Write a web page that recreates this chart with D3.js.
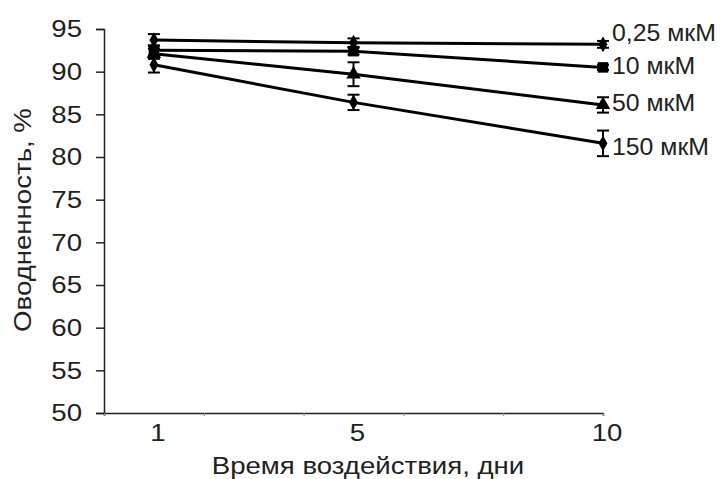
<!DOCTYPE html>
<html>
<head>
<meta charset="utf-8">
<script src="https://cdn.jsdelivr.net/npm/d3@7"></script>
<style>
  body { margin: 0; background: #fff; }
  text { font-family: "Liberation Sans", Arial, sans-serif; fill: #222; }
</style>
</head>
<body>
<script>
// days of exposure
var days = [1, 5, 10];
var seriesNames = ["0,25 мкМ", "10 мкМ", "50 мкМ", "150 мкМ"];
var values025 = [93.7, 93.4, 93.2];
var values10 = [92.5, 92.4, 90.5];
var values50 = [92.1, 89.7, 86.1];
var values150 = [90.8, 86.4, 81.6];
var err025 = [0.7, 0.5, 0.4];
var err10 = [0.6, 0.4, 0.3];
var err50 = [0.6, 1.4, 0.9];
var err150 = [0.9, 0.9, 1.5];
var markers = ["diamond", "square", "triangle", "diamond"];
var yTicks = [50, 55, 60, 65, 70, 75, 80, 85, 90, 95];
var xLabelTicks = [1, 5, 10];
var xMinorTicks = [0, 2, 4, 6, 8, 10];

var allValues = [values025, values10, values50, values150];
var allErr = [err025, err10, err50, err150];

var svgConfig = {
  width: 727,
  height: 479,
  margin: { top: 29, right: 124, bottom: 66, left: 104 }
};
var stretch = 1.15;
var fontSize = 24;

var svg = d3.select("body").append("svg")
  .attr("width", svgConfig.width)
  .attr("height", svgConfig.height);

var xScale = d3.scaleLinear()
  .domain([0, 10])
  .range([svgConfig.margin.left, svgConfig.width - svgConfig.margin.right]);

var yScale = d3.scaleLinear()
  .domain([50, 95])
  .range([svgConfig.height - svgConfig.margin.bottom, svgConfig.margin.top]);

// y axis
var yAxis = d3.axisLeft(yScale).tickValues(yTicks).tickSize(8);
var gy = svg.append("g")
  .attr("transform", "translate(" + svgConfig.margin.left + ",0)")
  .call(yAxis);
gy.select(".domain").attr("stroke", "#222").attr("stroke-width", 1.5);
gy.selectAll(".tick line").attr("stroke", "#222").attr("stroke-width", 1.5);
gy.selectAll(".tick text")
  .attr("font-size", fontSize)
  .attr("font-family", null)
  .attr("x", -22 / stretch)
  .attr("transform", "scale(" + stretch + ",1)");

// x axis: small minor ticks, labels at 1, 5, 10
var xBase = svgConfig.height - svgConfig.margin.bottom;
var gxMinor = svg.append("g")
  .attr("transform", "translate(0," + xBase + ")")
  .call(d3.axisBottom(xScale).tickValues(xMinorTicks).tickSize(3).tickFormat(""));
gxMinor.select(".domain").attr("stroke", "#222").attr("stroke-width", 1.5);
gxMinor.selectAll(".tick line").attr("stroke", "#888");

var gx = svg.append("g")
  .attr("transform", "translate(0," + xBase + ")")
  .call(d3.axisBottom(xScale).tickValues(xLabelTicks).tickSize(0).tickPadding(11));
gx.select(".domain").remove();
gx.selectAll(".tick text")
  .attr("font-size", fontSize)
  .attr("font-family", null)
  .attr("transform", "scale(" + stretch + ",1)")
  .attr("x", 0);
gx.selectAll(".tick").each(function(d) {
  d3.select(this).attr("transform", "translate(" + (xScale(d) + 4) + ",0)");
});

// axis titles
svg.append("text")
  .attr("transform", "translate(368,474) scale(" + stretch + ",1)")
  .attr("text-anchor", "middle")
  .attr("font-size", fontSize)
  .text("Время воздействия, дни");

svg.append("text")
  .attr("transform", "translate(31,220) rotate(-90) scale(" + stretch + ",1)")
  .attr("text-anchor", "middle")
  .attr("font-size", fontSize)
  .text("Оводненность, %");

// lines
var line = d3.line()
  .x(function(d, i) { return xScale(days[i]); })
  .y(function(d) { return yScale(d); });

allValues.forEach(function(vals, s) {
  svg.append("path")
    .attr("d", line(vals))
    .attr("fill", "none")
    .attr("stroke", "#000")
    .attr("stroke-width", 3);
});

// error bars and markers
var symbolTypes = {
  diamond: d3.symbolDiamond,
  square: d3.symbolSquare,
  triangle: d3.symbolTriangle
};
var symbolSizes = { diamond: 70, square: 110, triangle: 90 };

allValues.forEach(function(vals, s) {
  var g = svg.append("g");
  vals.forEach(function(v, i) {
    var x = xScale(days[i]);
    var e = allErr[s][i];
    g.append("line")
      .attr("x1", x).attr("x2", x)
      .attr("y1", yScale(v - e)).attr("y2", yScale(v + e))
      .attr("stroke", "#000").attr("stroke-width", 2);
    [v - e, v + e].forEach(function(c) {
      g.append("line")
        .attr("x1", x - 6).attr("x2", x + 6)
        .attr("y1", yScale(c)).attr("y2", yScale(c))
        .attr("stroke", "#000").attr("stroke-width", 2);
    });
    g.append("path")
      .attr("d", d3.symbol().type(symbolTypes[markers[s]]).size(symbolSizes[markers[s]])())
      .attr("transform", "translate(" + x + "," + yScale(v) + ")")
      .attr("fill", "#000");
  });
});

// series labels at the right
var labelY = [33, 66, 103, 147];
seriesNames.forEach(function(name, s) {
  svg.append("text")
    .attr("transform", "translate(612," + (labelY[s] + 8) + ") scale(1.08,1)")
    .attr("font-size", 23)
    .text(name);
});
</script>
</body>
</html>
